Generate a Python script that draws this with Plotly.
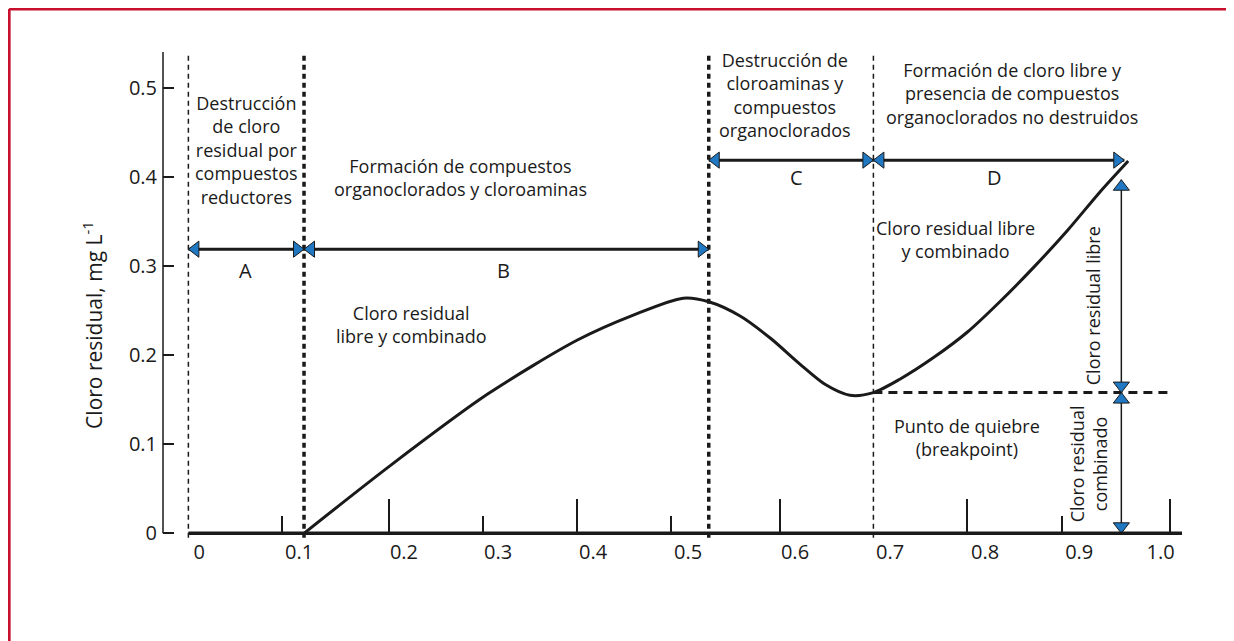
import plotly.graph_objects as go

# curva de punto de quiebre
cloro_anadido = [0.10, 0.188, 0.287, 0.379, 0.436, 0.487, 0.513, 0.545, 0.576, 0.606,
                 0.632, 0.657, 0.681, 0.708, 0.742, 0.777, 0.810, 0.844, 0.879, 0.912, 0.941]
cloro_residual = [0.0, 0.076, 0.156, 0.217, 0.245, 0.264, 0.260, 0.244, 0.219, 0.190,
                  0.167, 0.155, 0.158, 0.173, 0.197, 0.226, 0.260, 0.298, 0.340, 0.383, 0.418]

zonas = ["A", "B", "C", "D"]
limites_zonas = [-0.018, 0.10, 0.513, 0.681, 0.937]
nivel_flechas = [0.319, 0.319, 0.419, 0.419]
lineas_gruesas = [False, True, True, False]

punto_quiebre = 0.158
x_flecha_vertical = 0.934
tope_flecha_libre = 0.397

y_ticks = [0, 0.1, 0.2, 0.3, 0.4, 0.5]
y_labels = ["0", "0.1", "0.2", "0.3", "0.4", "0.5"]
x_labels = ["0", "0.1", "0.2", "0.3", "0.4", "0.5", "0.6", "0.7", "0.8", "0.9", "1.0"]
x_label_pos = [-0.007, 0.095, 0.202, 0.298, 0.395, 0.492, 0.601, 0.698, 0.795, 0.891, 0.974]
marcas_largas = [0.187, 0.379, 0.586, 0.777, 0.984]
marcas_cortas = [0.078, 0.283, 0.474, 0.873]

X_RANGE = [-0.0439, 0.9959]
Y_RANGE = [-0.012, 0.5404]
PX_X = 980.0
PX_Y = 890.0
AZUL = "#1F78C1"
NEGRO = "#1a1a1a"
ROJO = "#C8102E"

fig = go.Figure()

# lineas verticales de las zonas
for xv, gruesa in zip(limites_zonas[:4], lineas_gruesas):
    fig.add_trace(go.Scatter(
        x=[xv, xv], y=[-0.005, Y_RANGE[1]], mode="lines",
        line=dict(color=NEGRO, width=3.5 if gruesa else 1.5, dash="5px,4px"),
        hoverinfo="skip"))

# eje x (linea gruesa)
fig.add_trace(go.Scatter(
    x=[limites_zonas[0], X_RANGE[1]], y=[0, 0], mode="lines",
    line=dict(color=NEGRO, width=3.5), xaxis="x2", hoverinfo="skip"))

# linea discontinua del punto de quiebre
fig.add_trace(go.Scatter(
    x=[limites_zonas[3], marcas_largas[-1]], y=[punto_quiebre, punto_quiebre],
    mode="lines", line=dict(color=NEGRO, width=3, dash="9px,6px"), hoverinfo="skip"))

# curva
fig.add_trace(go.Scatter(
    x=cloro_anadido, y=cloro_residual, mode="lines",
    line=dict(color=NEGRO, width=3, shape="spline", smoothing=0.8), hoverinfo="skip"))

# flechas horizontales de zonas
off_x = 7 / PX_X
off_y = 7 / PX_Y
tri_x, tri_y, tri_s = [], [], []
for i, z in enumerate(zonas):
    x0, x1 = limites_zonas[i], limites_zonas[i + 1]
    yv = nivel_flechas[i]
    fig.add_trace(go.Scatter(x=[x0, x1], y=[yv, yv], mode="lines",
                             line=dict(color=NEGRO, width=3), hoverinfo="skip"))
    tri_x += [x0 + off_x, x1 - off_x]
    tri_y += [yv, yv]
    tri_s += ["triangle-left", "triangle-right"]

# flechas verticales (cloro libre / combinado)
fig.add_trace(go.Scatter(x=[x_flecha_vertical] * 2, y=[punto_quiebre, tope_flecha_libre],
                         mode="lines", line=dict(color=NEGRO, width=1.5), hoverinfo="skip"))
fig.add_trace(go.Scatter(x=[x_flecha_vertical] * 2, y=[0, punto_quiebre],
                         mode="lines", line=dict(color=NEGRO, width=1.5), hoverinfo="skip"))
tri_x += [x_flecha_vertical] * 4
tri_y += [tope_flecha_libre - off_y, punto_quiebre + off_y, punto_quiebre - off_y, 0 + off_y]
tri_s += ["triangle-up", "triangle-down", "triangle-up", "triangle-down"]

fig.add_trace(go.Scatter(
    x=tri_x, y=tri_y, mode="markers", cliponaxis=False,
    marker=dict(symbol=tri_s, size=14, color=AZUL, line=dict(color=NEGRO, width=1)),
    hoverinfo="skip"))

# textos
textos = [
    (0.041, 0.430, "Destrucción<br>de cloro<br>residual por<br>compuestos<br>reductores", 0),
    (0.260, 0.399, "Formación de compuestos<br>organoclorados y cloroaminas", 0),
    (0.591, 0.4916, "Destrucción de<br>cloroaminas y<br>compuestos<br>organoclorados", 0),
    (0.822, 0.494, "Formación de cloro libre y<br>presencia de compuestos<br>organoclorados no destruidos", 0),
    (0.210, 0.235, "Cloro residual<br>libre y combinado", 0),
    (0.765, 0.330, "Cloro residual libre<br>y combinado", 0),
    (0.777, 0.108, "Punto de quiebre<br>(breakpoint)", 0),
    (0.905, 0.256, "Cloro residual libre", -90),
    (0.900, 0.0775, "Cloro residual<br>combinado", -90),
]
for xt, yt, t, ang in textos:
    fig.add_annotation(x=xt, y=yt, text=t, showarrow=False, textangle=ang,
                       xanchor="center", yanchor="middle",
                       font=dict(size=18, color=NEGRO))

letras_pos = [(0.040, 0.2955), (0.304, 0.2955), (0.603, 0.400), (0.805, 0.400)]
for z, (xt, yt) in zip(zonas, letras_pos):
    fig.add_annotation(x=xt, y=yt, text=z, showarrow=False, xanchor="center",
                       yanchor="middle", font=dict(size=20, color=NEGRO))

# titulos de ejes
fig.add_annotation(x=0.5, y=-0.07, yref="y", text="Cloro añadido, mg L<sup>-1</sup>",
                   showarrow=False, xanchor="center", yanchor="middle",
                   font=dict(size=21, color=NEGRO))
fig.add_annotation(x=-0.0687, xref="paper", y=0.234, text="Cloro residual, mg L<sup>-1</sup>",
                   textangle=-90, showarrow=False, xanchor="center", yanchor="middle",
                   font=dict(size=21, color=NEGRO))

# eje y (linea) y marco rojo
fig.add_shape(type="line", xref="paper", yref="y", x0=0, x1=0, y0=0, y1=Y_RANGE[1],
              line=dict(color=NEGRO, width=1.5))
fig.add_shape(type="line", xref="paper", yref="paper", x0=-0.151, x1=1.06, y0=1.0874, y1=1.0874,
              line=dict(color=ROJO, width=3))
fig.add_shape(type="line", xref="paper", yref="paper", x0=-0.151, x1=-0.151, y0=-0.25, y1=1.0874,
              line=dict(color=ROJO, width=3))

pos_x = (0 - Y_RANGE[0]) / (Y_RANGE[1] - Y_RANGE[0])

# la pagina tiene 8 px de margen, por eso 1226x633
fig.update_layout(
    width=1226, height=633,
    margin=dict(l=155, r=52, t=44, b=97),
    plot_bgcolor="white", paper_bgcolor="white",
    showlegend=False,
    font=dict(family="Open Sans", size=18, color=NEGRO),
    xaxis=dict(range=X_RANGE, anchor="free", position=pos_x,
               showgrid=False, zeroline=False, showline=False,
               tickmode="array", tickvals=marcas_largas, showticklabels=False,
               ticks="inside", ticklen=34, tickwidth=1.5, tickcolor=NEGRO,
               minor=dict(tickmode="array", tickvals=marcas_cortas, ticks="inside",
                          ticklen=17, tickwidth=1.5, tickcolor=NEGRO)),
    xaxis2=dict(range=X_RANGE, overlaying="x", anchor="free", position=pos_x,
                showgrid=False, zeroline=False, showline=False,
                tickmode="array", tickvals=x_label_pos, ticktext=x_labels, ticks="",
                ticklabelstandoff=5, tickfont=dict(size=20, color=NEGRO)),
    yaxis=dict(range=Y_RANGE, showgrid=False, zeroline=False, showline=False,
               tickmode="array", tickvals=y_ticks, ticktext=y_labels,
               ticks="inside", ticklen=11, tickwidth=1.5, tickcolor=NEGRO,
               ticklabelstandoff=5, tickfont=dict(size=20, color=NEGRO)),
)

fig.write_html("out.html")
